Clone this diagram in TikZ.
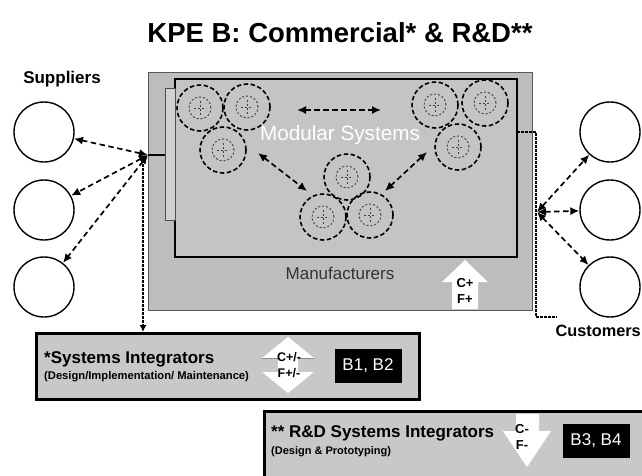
\documentclass[tikz,border=0pt]{standalone}
\usepackage{fontspec}
\setmainfont{Liberation Sans}
\usetikzlibrary{arrows.meta}
\definecolor{boxgray}{HTML}{BDBDBD}
\definecolor{innergray}{HTML}{C4C4C4}
\definecolor{sigray}{HTML}{C8C8C8}
\begin{document}
\begin{tikzpicture}[x=1pt,y=-1pt,
  fs/.style={font=\fontsize{#1}{#1}\selectfont},
  bfs/.style={font=\fontsize{#1}{#1}\selectfont\bfseries},
  ring/.style={circle,draw,line width=1.4pt,minimum size=60pt,inner sep=0pt},
  dasharrow/.style={line width=1.7pt,dash pattern=on 5.5pt off 3.5pt,{Latex[length=9pt,width=8pt]}-{Latex[length=9pt,width=8pt]}},
  dotline/.style={line width=1.2pt,dash pattern=on 2.5pt off 1.5pt},
  blackbox/.style={fill=black,text=white,fs=17,minimum width=67pt,minimum height=34pt,inner sep=0pt},
  modgear/.pic={
    \draw[line width=1.6pt,dash pattern=on 4.5pt off 2.5pt] (0,0) circle (23pt);
    \draw[line width=0.9pt,dash pattern=on 2pt off 2pt,black!75] (0,0) circle (11pt);
    \draw[line width=0.9pt,dash pattern=on 2pt off 2pt,black!75] (-6,0)--(6,0) (0,-7)--(0,7);
  }
]
\useasboundingbox (0,0) rectangle (642,475);
\clip (0,0) rectangle (642,475);
\fill[white] (0,0) rectangle (642,475);

% title
\node[bfs=27.5] (title) at (340,33) {KPE B: Commercial* \& R\&D**};

% manufacturers box
\node[draw=black!65,line width=1pt,fill=boxgray,minimum width=384pt,minimum height=238pt,inner sep=0pt,outer sep=0pt,anchor=north west] (mfg) at (148,72) {};
\node[draw=black,line width=1.4pt,fill=innergray,minimum width=342pt,minimum height=178pt,inner sep=0pt,outer sep=0pt,anchor=north west] (mod) at (175,79) {};
\node[draw=black!70,line width=1pt,fill=black!18,minimum width=10pt,minimum height=132pt,inner sep=0pt,outer sep=0pt,anchor=north west] (brk) at (165,88) {};

% clusters
\pic at (200,108) {modgear};
\pic at (247,107) {modgear};
\pic at (223,150) {modgear};
\pic at (347,177) {modgear};
\pic at (323,217) {modgear};
\pic at (370,215) {modgear};
\pic at (435,105) {modgear};
\pic at (485,103) {modgear};
\pic at (458,147) {modgear};

\node[fs=20.7,text=white] (modtxt) at (340,135) {Modular Systems};
\coordinate (t1) at (297,110); \coordinate (t2) at (381,110);
\coordinate (l1) at (258,153); \coordinate (l2) at (307,191);
\coordinate (r1) at (427,152); \coordinate (r2) at (385,191);
\draw[dasharrow] (t1) -- (t2);
\draw[dasharrow] (l1) -- (l2);
\draw[dasharrow] (r1) -- (r2);

\node[fs=17,text=black!80] (mfgtxt) at (340,273) {Manufacturers};

% up arrow C+ F+
\fill[white] (465,260) -- (488,282) -- (478,282) -- (478,309) -- (452,309) -- (452,282) -- (442,282) -- cycle;
\node[bfs=13,align=center,inner sep=0pt] (cfup) at (465,291) {C+\\[3pt]F+};

% suppliers
\node[bfs=17] (suptxt) at (62,79) {Suppliers};
\node[ring] (s1) at (44,132) {};
\node[ring] (s2) at (44,210) {};
\node[ring] (s3) at (44,287) {};
\coordinate (jl) at (148,155);
\coordinate (jlb) at (143,160);
\draw[line width=1.2pt] (jl) -- (brk.west |- jl);
\draw[dasharrow] (jl) -- (s1);
\draw[dasharrow] (jl) -- (s2);
\draw[dasharrow] (jl) -- (s3);

% customers
\node[ring] (c1) at (610,132) {};
\node[ring] (c2) at (610,210) {};
\node[ring] (c3) at (610,287) {};
\node[bfs=16.3,anchor=east,inner sep=0pt] (custxt) at (641,331) {Customers};
\coordinate (jr) at (537,212);
\draw[dotline] (mod.east |- 0,132) -- (536,132) -- (536,317) -- (557,317);
\draw[dasharrow] (jr) -- (c1);
\draw[dasharrow] (jr) -- (c2);
\draw[dasharrow] (jr) -- (c3);

% systems integrators box
\node[draw=black,line width=3pt,fill=sigray,minimum width=383pt,minimum height=66pt,inner sep=0pt,anchor=north west] (si) at (35,332) {};
\draw[dotline,-{Latex[length=7pt,width=7pt]}] (jlb) -- (jlb |- si.north);
\node[bfs=17,anchor=west,inner sep=0pt] (sitxt) at (44,359) {*Systems Integrators};
\node[bfs=11.2,anchor=west,inner sep=0pt] (sisub) at (44,377) {(Design/Implementation/ Maintenance)};
\fill[white] (288,337) -- (314,358) -- (298,358) -- (298,372) -- (314,372) -- (288,393) -- (262,372) -- (278,372) -- (278,358) -- (262,358) -- cycle;
\draw[black!45,line width=0.8pt] (262,358) -- (278,358) (298,358) -- (314,358);
\node[bfs=12.5,align=center,inner sep=0pt] (cfsi) at (289,365) {C+/-\\[3pt]F+/-};
\node[blackbox] (b12) at (368,366) {B1, B2};

% R&D box
\node[draw=black,line width=3pt,fill=sigray,minimum width=400pt,minimum height=80pt,inner sep=0pt,anchor=north west] (rd) at (263,410) {};
\node[bfs=17,anchor=west,inner sep=0pt] (rdtxt) at (271,433) {** R\&D Systems Integrators};
\node[bfs=11,anchor=west,inner sep=0pt] (rdsub) at (271,452) {(Design \& Prototyping)};
\fill[white] (516,414) -- (539,414) -- (539,431) -- (551,431) -- (527,467) -- (503,431) -- (516,431) -- cycle;
\node[bfs=13,align=center,inner sep=0pt] (cfrd) at (522,437) {C-\\[3pt]F-};
\node[blackbox] (b34) at (596,441) {B3, B4};
\end{tikzpicture}
\end{document}
